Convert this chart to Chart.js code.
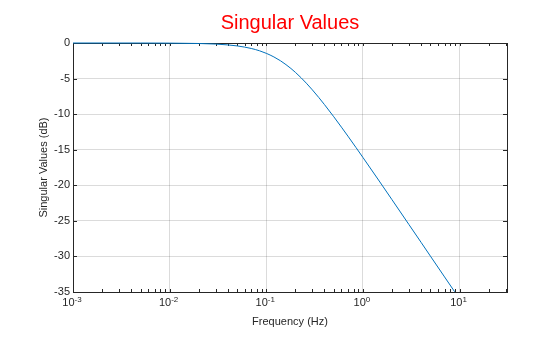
<!DOCTYPE html>
<html>
<head>
<meta charset="utf-8">
<script src="https://cdn.jsdelivr.net/npm/chart.js@4/dist/chart.umd.min.js"></script>
<style>
  html, body { margin: 0; padding: 0; background: #fff; }
  #wrap { width: 560px; height: 337px; }
</style>
</head>
<body>
<div id="wrap"><canvas id="myChart" width="560" height="337"></canvas></div>
<script>
// values
const freqHz = [0.001, 0.002, 0.005, 0.01, 0.02, 0.03, 0.04, 0.05, 0.06, 0.07, 0.085, 0.1, 0.12,
  0.14, 0.16, 0.18, 0.2, 0.23, 0.26, 0.3, 0.35, 0.4, 0.5, 0.6, 0.7, 0.85, 1, 1.5, 2, 3, 4, 5, 7, 8.9];
const singularDb = [0, 0, -0.004, -0.017, -0.07, -0.15, -0.27, -0.41, -0.58, -0.77, -1.09, -1.45,
  -1.96, -2.49, -3.04, -3.58, -4.12, -4.9, -5.65, -6.59, -7.67, -8.65, -10.37, -11.83, -13.09,
  -14.71, -16.08, -19.54, -22.02, -25.53, -28.02, -29.96, -32.88, -34.96];
const xDecades = [0.001, 0.01, 0.1, 1, 10];
const xExponents = ['-3', '-2', '-1', '0', '1'];
const yTicks = [0, -5, -10, -15, -20, -25, -30, -35];

const axisColor = '#262626';
const gridColor = 'rgba(0,0,0,0.14)';
const fontFamily = 'Arial, "Liberation Sans", sans-serif';
const font11 = { family: fontFamily, size: 11 };

// ==========================================================================
// box and inward tick marks (under the line)
// ==========================================================================
const boxPlugin = {
  id: 'box',
  beforeDatasetsDraw(chart) {
    const ctx = chart.ctx, a = chart.chartArea;
    const xs = chart.scales.x, ys = chart.scales.y;
    ctx.save();
    ctx.strokeStyle = axisColor;
    ctx.lineWidth = 1;
    ctx.beginPath();
    for (let d = -3; d <= 1; d++) {
      for (let k = 1; k <= 9; k++) {
        const v = k * Math.pow(10, d);
        if (v > xs.max) break;
        const px = Math.round(xs.getPixelForValue(v)) + 0.5;
        ctx.moveTo(px, a.bottom); ctx.lineTo(px, a.bottom - 3);
        ctx.moveTo(px, a.top); ctx.lineTo(px, a.top + 3);
      }
    }
    yTicks.forEach(v => {
      const py = Math.round(ys.getPixelForValue(v)) + 0.5;
      ctx.moveTo(a.left, py); ctx.lineTo(a.left + 4, py);
      ctx.moveTo(a.right, py); ctx.lineTo(a.right - 4, py);
    });
    ctx.stroke();
    ctx.strokeRect(Math.round(a.left) + 0.5, Math.round(a.top) + 0.5,
      Math.round(a.right - a.left), Math.round(a.bottom - a.top));
    ctx.restore();
  },
  // ==========================================================================
  // title and 10^n tick labels
  // ==========================================================================
  afterDraw(chart) {
    const ctx = chart.ctx, a = chart.chartArea, xs = chart.scales.x;
    ctx.save();
    ctx.fillStyle = '#ff0000';
    ctx.font = '20px ' + fontFamily;
    ctx.textAlign = 'center';
    ctx.textBaseline = 'alphabetic';
    ctx.fillText('Singular Values', (a.left + a.right) / 2, 29);

    ctx.fillStyle = axisColor;
    ctx.textAlign = 'left';
    xDecades.forEach((v, i) => {
      const px = xs.getPixelForValue(v);
      ctx.font = '11px ' + fontFamily;
      const wBase = ctx.measureText('10').width;
      ctx.font = '8px ' + fontFamily;
      const wExp = ctx.measureText(xExponents[i]).width;
      const x0 = px - 1 - (wBase + wExp) / 2;
      ctx.font = '11px ' + fontFamily;
      ctx.fillText('10', x0, a.bottom + 13.5);
      ctx.font = '8px ' + fontFamily;
      ctx.fillText(xExponents[i], x0 + wBase, a.bottom + 9.5);
    });
    ctx.restore();
  }
};

const data = {
  datasets: [{
    data: freqHz.map((f, i) => ({ x: f, y: singularDb[i] })),
    borderColor: '#0072BD',
    borderWidth: 1,
    pointRadius: 0,
    showLine: true,
    fill: false,
    clip: 2,
    cubicInterpolationMode: 'monotone'
  }]
};

const config = {
  type: 'scatter',
  data: data,
  options: {
    responsive: false,
    animation: false,
    layout: { padding: { top: 43, right: 53, bottom: 0, left: 0 } },
    plugins: {
      legend: { display: false },
      tooltip: { enabled: false },
      title: { display: false }
    },
    scales: {
      x: {
        type: 'logarithmic',
        min: 0.001,
        max: 31,
        afterBuildTicks: (s) => { s.ticks = xDecades.map(v => ({ value: v, major: true })); },
        afterFit: (s) => { s.height = 45; },
        grid: { color: gridColor, drawTicks: false },
        border: { display: false },
        ticks: { display: false },
        title: {
          display: true, text: 'Frequency (Hz)', color: axisColor, font: font11,
          padding: { top: 0, bottom: 8 }
        }
      },
      y: {
        min: -35,
        max: 0,
        afterBuildTicks: (s) => { s.ticks = yTicks.map(v => ({ value: v })); },
        afterFit: (s) => { s.width = 73; },
        grid: { color: gridColor, drawTicks: false },
        border: { display: false },
        ticks: { color: axisColor, font: font11, padding: 3 },
        title: {
          display: true, text: 'Singular Values (dB)', color: axisColor, font: font11,
          padding: { top: 37, bottom: 0 }
        }
      }
    }
  },
  plugins: [boxPlugin]
};

const myChart = new Chart(document.getElementById('myChart'), config);
</script>
</body>
</html>
